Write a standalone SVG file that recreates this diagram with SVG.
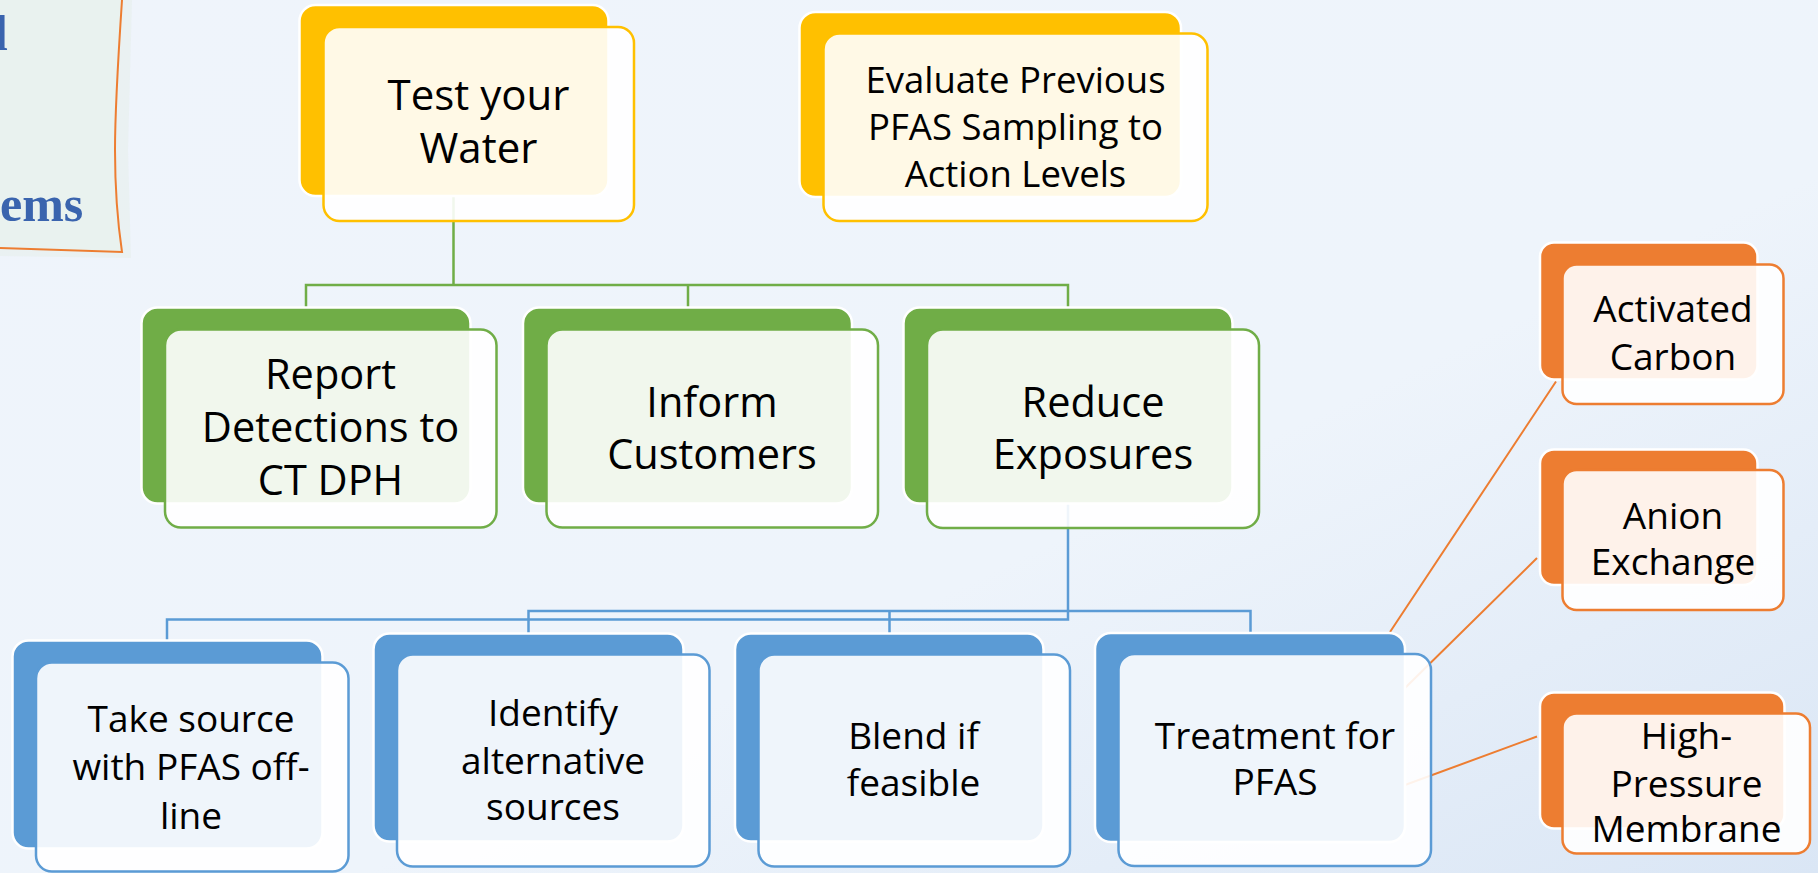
<svg xmlns="http://www.w3.org/2000/svg" width="1818" height="873" viewBox="0 0 1818 873">
<defs>
<linearGradient id="bg" x1="0" y1="0" x2="1" y2="1">
<stop offset="0" stop-color="#EFF4FB"/>
<stop offset="0.6" stop-color="#EEF4FB"/>
<stop offset="1" stop-color="#DAE6F5"/>
</linearGradient>
<style>
.t{font-family:"Open Sans","Noto Sans",sans-serif;fill:#000;text-anchor:middle}
.back{stroke:#fff;stroke-width:2.5}
.front{fill:#fff;fill-opacity:0.9;stroke-width:2.5}
.y .back{fill:#FFC000}.y .front{stroke:#FFC000}
.g .back{fill:#70AD47}.g .front{stroke:#70AD47}
.b .back{fill:#5B9BD5}.b .front{stroke:#5B9BD5}
.o .back{fill:#ED7D31}.o .front{stroke:#ED7D31}
.cg{fill:none;stroke:#70AD47;stroke-width:2.5}
.cb{fill:none;stroke:#5B9BD5;stroke-width:2.5}
.co{fill:none;stroke:#ED7D31;stroke-width:2}
.note{font-family:"Liberation Serif",serif;font-weight:bold;fill:#3A64AE}
</style>
</defs>
<rect width="1818" height="873" fill="url(#bg)"/>

<g id="title-note">
<path d="M0,0 H132 L128,150 L131,258 L0,256 Z" fill="#E6EFEC" opacity="0.6"/>
<path d="M0,0 H122 C118,60 115,110 115,150 C115,190 118,225 122,252 L0,248 Z" fill="#E9F2EF"/>
<path d="M122,0 C118,60 115,110 115,150 C115,190 118,225 122,252 L0,248" fill="none" stroke="#ED7D31" stroke-width="2"/>
<text class="note" x="-6" y="50" font-size="50">l</text>
<text class="note" x="0" y="221" font-size="50">ems</text>
</g>

<g id="connectors">
<path class="cg" d="M453.5,196 V285 M306,307 V285 H1068 V307 M688,285 V307"/>
<path class="cb" d="M1068,503 V619.5 H167 V640 M528.5,633 V611 H1250.5 V633 M889.5,611 V633"/>
<path class="co" d="M1390,632 L1556,381.5 M1405,688 L1537,558 M1405,785 L1537,736.5"/>
</g>

<g id="n-test" class="y">
<rect class="back" x="299.5" y="5" width="309" height="191" rx="16"/>
<rect class="front" x="323.5" y="27" width="310.5" height="194" rx="16"/>
<text class="t" font-size="42"><tspan x="478.5" y="110">Test your</tspan><tspan x="478.5" y="163">Water</tspan></text>
</g>

<g id="n-evaluate" class="y">
<rect class="back" x="799.5" y="12" width="381.5" height="185" rx="16"/>
<rect class="front" x="823.5" y="33.5" width="384" height="187.5" rx="16"/>
<text class="t" font-size="36.5"><tspan x="1015.5" y="93">Evaluate Previous</tspan><tspan x="1015.5" y="140">PFAS Sampling to</tspan><tspan x="1015.5" y="186.5">Action Levels</tspan></text>
</g>

<g id="n-report" class="g">
<rect class="back" x="141.5" y="307.5" width="329" height="196" rx="16"/>
<rect class="front" x="165" y="329.5" width="331.5" height="198" rx="16"/>
<text class="t" font-size="41.5"><tspan x="330.5" y="388.5">Report</tspan><tspan x="330.5" y="441.5">Detections to</tspan><tspan x="330.5" y="495">CT DPH</tspan></text>
</g>

<g id="n-inform" class="g">
<rect class="back" x="523" y="307.5" width="329" height="196" rx="16"/>
<rect class="front" x="546.5" y="329.5" width="331.5" height="198" rx="16"/>
<text class="t" font-size="41.5"><tspan x="712" y="416.5">Inform</tspan><tspan x="712" y="468.5">Customers</tspan></text>
</g>

<g id="n-reduce" class="g">
<rect class="back" x="903.5" y="307.5" width="329" height="196" rx="16"/>
<rect class="front" x="927" y="329.5" width="332" height="198.5" rx="16"/>
<text class="t" font-size="41.5"><tspan x="1093" y="416.5">Reduce</tspan><tspan x="1093" y="468.5">Exposures</tspan></text>
</g>

<g id="n-take" class="b">
<rect class="back" x="12.5" y="640.5" width="310" height="208" rx="16"/>
<rect class="front" x="36" y="662.5" width="312.5" height="209" rx="16"/>
<text class="t" font-size="37"><tspan x="191" y="731.5">Take source</tspan><tspan x="191" y="780">with PFAS off-</tspan><tspan x="191" y="828.5">line</tspan></text>
</g>

<g id="n-identify" class="b">
<rect class="back" x="373.5" y="633.5" width="310" height="208" rx="16"/>
<rect class="front" x="397" y="654.5" width="312.5" height="212" rx="16"/>
<text class="t" font-size="37"><tspan x="553" y="726">Identify</tspan><tspan x="553" y="773.5">alternative</tspan><tspan x="553" y="820">sources</tspan></text>
</g>

<g id="n-blend" class="b">
<rect class="back" x="735" y="633.5" width="308.5" height="208" rx="16"/>
<rect class="front" x="758.5" y="654.5" width="311.5" height="212" rx="16"/>
<text class="t" font-size="37"><tspan x="913.5" y="748.5">Blend if</tspan><tspan x="913.5" y="796">feasible</tspan></text>
</g>

<g id="n-treatment" class="b">
<rect class="back" x="1095" y="633" width="310" height="209" rx="16"/>
<rect class="front" x="1118.5" y="654" width="312.5" height="212" rx="16"/>
<text class="t" font-size="37"><tspan x="1275" y="748.5">Treatment for</tspan><tspan x="1275" y="795">PFAS</tspan></text>
</g>

<g id="n-activated" class="o">
<rect class="back" x="1540" y="242.5" width="217.5" height="137" rx="14"/>
<rect class="front" x="1562.5" y="264.5" width="221" height="139.5" rx="14"/>
<text class="t" font-size="37"><tspan x="1673" y="321.5">Activated</tspan><tspan x="1673" y="369.5">Carbon</tspan></text>
</g>

<g id="n-anion" class="o">
<rect class="back" x="1540" y="449.5" width="217.5" height="135.5" rx="14"/>
<rect class="front" x="1562.5" y="470" width="221" height="140" rx="14"/>
<text class="t" font-size="37"><tspan x="1673" y="528.5">Anion</tspan><tspan x="1673" y="575">Exchange</tspan></text>
</g>

<g id="n-hpm" class="o">
<rect class="back" x="1540" y="692.5" width="244.5" height="136" rx="14"/>
<rect class="front" x="1562.5" y="713.5" width="247.5" height="140" rx="14"/>
<text class="t" font-size="37"><tspan x="1686.5" y="748.5">High-</tspan><tspan x="1686.5" y="796.5">Pressure</tspan><tspan x="1686.5" y="842">Membrane</tspan></text>
</g>
</svg>
